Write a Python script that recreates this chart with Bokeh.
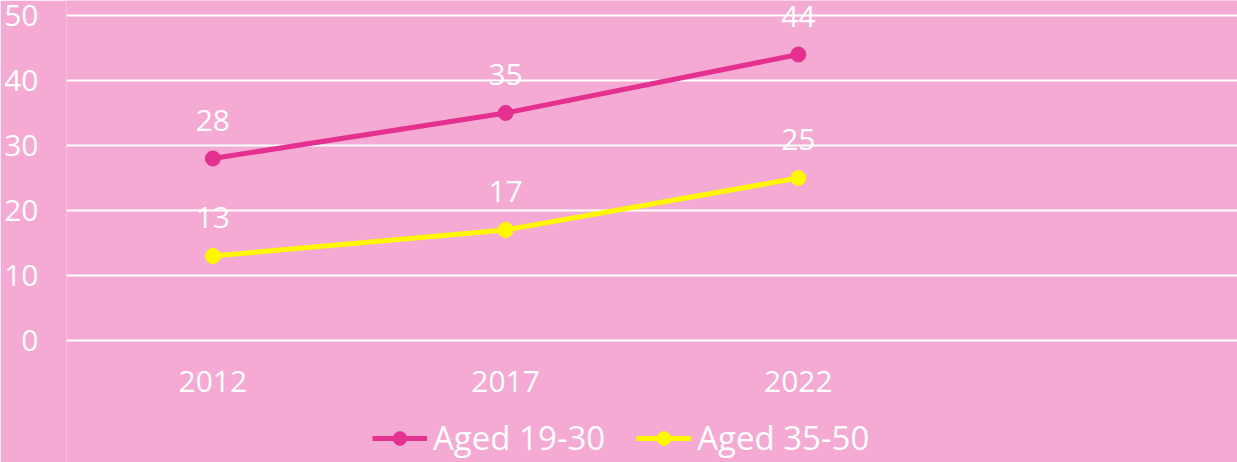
from bokeh.plotting import figure
from bokeh.models import Range1d, FixedTicker, ColumnDataSource, LabelSet, Legend, LegendItem
from bokeh.core.properties import value
from bokeh.embed import file_html
from bokeh.resources import INLINE

years = ["2012", "2017", "2022"]
aged_19_30 = [28, 35, 44]
aged_35_50 = [13, 17, 25]
y_ticks = [0, 10, 20, 30, 40, 50]

BG = "#F4AAD3"
PINK = "#E4308E"
YELLOW = "#FFF700"
FONT = "Open Sans"

xs = list(range(len(years)))

p = figure(width=1237, height=462, x_range=Range1d(-0.5, 3.5), y_range=Range1d(-18.77, 52.31),
           output_backend="svg", toolbar_location=None,
           background_fill_color=BG, border_fill_color=BG, outline_line_color=None,
           min_border_left=66, min_border_right=0, min_border_top=0, min_border_bottom=0)

p.xgrid.grid_line_color = None
p.ygrid.grid_line_color = "white"
p.ygrid.grid_line_width = 2
p.yaxis.ticker = FixedTicker(ticks=y_ticks)
p.xaxis.ticker = FixedTicker(ticks=xs)
p.xaxis.fixed_location = 0
p.xaxis.major_label_overrides = {i: y for i, y in enumerate(years)}
for ax in (p.xaxis, p.yaxis):
    ax.axis_line_color = None
    ax.major_tick_line_color = None
    ax.minor_tick_line_color = None
    ax.major_label_text_color = "white"
    ax.major_label_text_font = FONT
    ax.major_label_text_font_size = "30px"
p.yaxis.major_label_standoff = 22
p.xaxis.major_label_standoff = 24

items = []
for vals, color, name in ((aged_19_30, PINK, "Aged 19-30"), (aged_35_50, YELLOW, "Aged 35-50")):
    src = ColumnDataSource(dict(x=xs, y=vals, t=[str(v) for v in vals]))
    lr = p.line("x", "y", source=src, line_color=color, line_width=5)
    cr = p.scatter("x", "y", source=src, size=15, fill_color=color, line_color=color)
    labels = LabelSet(x="x", y="y", text="t", source=src, y_offset=28, text_align="center",
                      text_baseline="alphabetic", text_color="white", text_font=value(FONT),
                      text_font_size="30px")
    p.add_layout(labels)
    items.append(LegendItem(label=name, renderers=[lr, cr]))

legend = Legend(items=items, orientation="horizontal", location=(306, 2),
                glyph_width=55, glyph_height=34, label_standoff=6, spacing=31,
                padding=0, margin=0, border_line_color=None, background_fill_alpha=0,
                label_text_color="white", label_text_font=FONT, label_text_font_size="33px")
p.add_layout(legend)

open("out.html", "w").write(file_html(p, INLINE))
